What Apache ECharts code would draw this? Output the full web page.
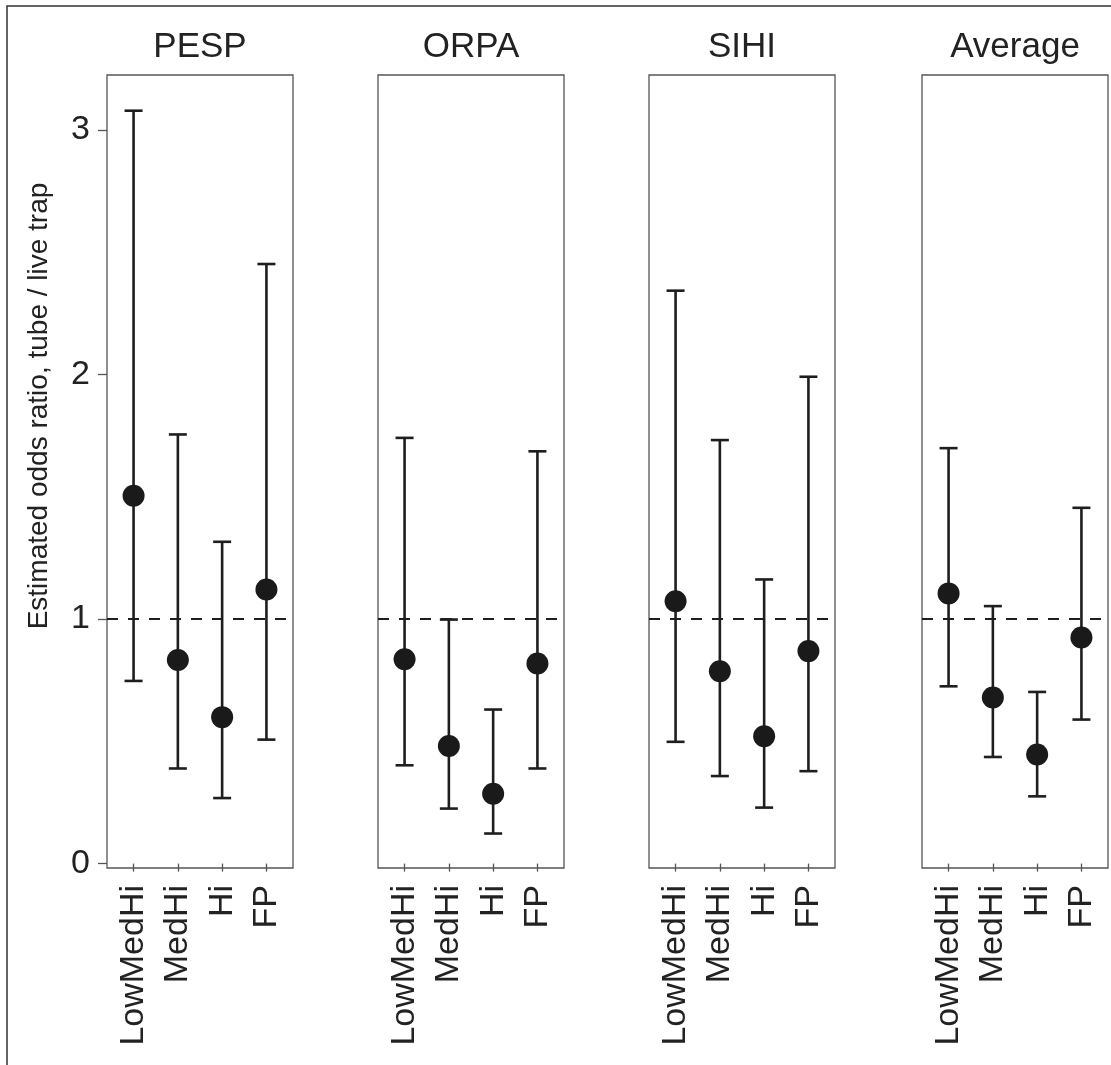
<!DOCTYPE html>
<html>
<head>
<meta charset="utf-8">
<script src="https://cdn.jsdelivr.net/npm/echarts@6/dist/echarts.min.js"></script>
<style>
  html, body { margin: 0; padding: 0; background: #ffffff; }
  #chart { width: 1111px; height: 1065px; }
</style>
</head>
<body>
<div id="chart"></div>
<script>
// ---- data ----
const categories = ['LowMedHi', 'MedHi', 'Hi', 'FP'];
const panels = ['PESP', 'ORPA', 'SIHI', 'Average'];
const yTicks = [0, 1, 2, 3];
const refValue = 1;
const yTitle = 'Estimated odds ratio, tube / live trap';

const pespEst = [1.504, 0.833, 0.599, 1.121];
const pespLo  = [0.747, 0.389, 0.268, 0.507];
const pespHi  = [3.079, 1.755, 1.316, 2.452];

const orpaEst = [0.836, 0.481, 0.286, 0.818];
const orpaLo  = [0.402, 0.225, 0.123, 0.389];
const orpaHi  = [1.741, 0.998, 0.630, 1.686];

const sihiEst = [1.073, 0.787, 0.521, 0.869];
const sihiLo  = [0.498, 0.358, 0.229, 0.378];
const sihiHi  = [2.343, 1.732, 1.162, 1.991];

const avgEst = [1.105, 0.679, 0.446, 0.925];
const avgLo  = [0.725, 0.436, 0.275, 0.589];
const avgHi  = [1.699, 1.053, 0.702, 1.455];

const panelData = [
  { est: pespEst, lo: pespLo, hi: pespHi },
  { est: orpaEst, lo: orpaLo, hi: orpaHi },
  { est: sihiEst, lo: sihiLo, hi: sihiHi },
  { est: avgEst,  lo: avgLo,  hi: avgHi }
];

// ---- layout / style ----
const FONT = "'Liberation Sans', Arial, Helvetica, sans-serif";
const TEXT = '#222222';
const INK = '#1e1e1e';
const BORDER = '#555555';
const gridLefts = [107, 378, 649, 922];
const gridTop = 75, gridW = 186, gridH = 793;

const grids = [], xAxes = [], yAxes = [], series = [], graphics = [];

panels.forEach((name, i) => {
  grids.push({
    left: gridLefts[i], top: gridTop, width: gridW, height: gridH,
    show: true, borderColor: BORDER, borderWidth: 1.3, backgroundColor: 'transparent',
    containLabel: false
  });
  xAxes.push({
    type: 'value', gridIndex: i, min: 0.4, max: 4.6,
    axisLine: { show: false },
    splitLine: { show: false },
    axisTick: { show: true, customValues: [1, 2, 3, 4], length: 8, lineStyle: { color: BORDER, width: 1.3 } },
    axisLabel: {
      show: true, customValues: [1, 2, 3, 4], rotate: 90, margin: 17,
      fontSize: 34, fontFamily: FONT, color: TEXT,
      formatter: v => categories[Math.round(v) - 1]
    }
  });
  yAxes.push({
    type: 'value', gridIndex: i, min: -0.018, max: 3.225,
    show: i === 0,
    axisLine: { show: false },
    splitLine: { show: false },
    axisTick: { show: true, customValues: yTicks, length: 9, lineStyle: { color: BORDER, width: 1.3 } },
    axisLabel: {
      show: true, customValues: yTicks, margin: 17,
      fontSize: 34, fontFamily: FONT, color: TEXT,
      formatter: v => String(v)
    }
  });

  const d = panelData[i];
  const barData = categories.map((c, k) => [k + 1, d.lo[k], d.hi[k]]);
  const ptData = categories.map((c, k) => [k + 1, d.est[k]]);

  series.push({
    type: 'custom', xAxisIndex: i, yAxisIndex: i,
    data: barData,
    encode: { x: 0, y: [1, 2] },
    renderItem: (params, api) => {
      const x = api.value(0), lo = api.value(1), hi = api.value(2);
      const pLo = api.coord([x, lo]);
      const pHi = api.coord([x, hi]);
      const half = 9;
      const st = { stroke: INK, lineWidth: 2.6 };
      return {
        type: 'group',
        children: [
          { type: 'line', shape: { x1: pLo[0], y1: pLo[1], x2: pHi[0], y2: pHi[1] }, style: st },
          { type: 'line', shape: { x1: pHi[0] - half, y1: pHi[1], x2: pHi[0] + half, y2: pHi[1] }, style: st },
          { type: 'line', shape: { x1: pLo[0] - half, y1: pLo[1], x2: pLo[0] + half, y2: pLo[1] }, style: st }
        ]
      };
    },
    markLine: {
      silent: true, symbol: 'none', label: { show: false },
      lineStyle: { color: INK, width: 2, type: [11, 10] },
      data: [{ yAxis: refValue }]
    },
    z: 2
  });
  series.push({
    type: 'scatter', xAxisIndex: i, yAxisIndex: i,
    data: ptData, symbol: 'circle', symbolSize: 22,
    itemStyle: { color: '#1a1a1a', opacity: 1 },
    z: 3
  });

  graphics.push({
    type: 'text', x: gridLefts[i] + gridW / 2, y: 47,
    style: { text: name, fontSize: 35, fontFamily: FONT, fill: TEXT, textAlign: 'center', textVerticalAlign: 'middle' }
  });
});

graphics.push({
  type: 'text', x: 39, y: 406, rotation: Math.PI / 2,
  style: { text: yTitle, fontSize: 28, fontFamily: FONT, fill: TEXT, textAlign: 'center', textVerticalAlign: 'middle' }
});
graphics.push({
  type: 'rect', shape: { x: 7, y: 6, width: 1300, height: 1300 },
  style: { fill: 'none', stroke: '#333333', lineWidth: 1.5 }, silent: true, z: -1
});

const chart = echarts.init(document.getElementById('chart'), null, { renderer: 'canvas' });
chart.setOption({
  animation: false,
  backgroundColor: '#ffffff',
  grid: grids,
  xAxis: xAxes,
  yAxis: yAxes,
  series: series,
  graphic: graphics
});
</script>
</body>
</html>
